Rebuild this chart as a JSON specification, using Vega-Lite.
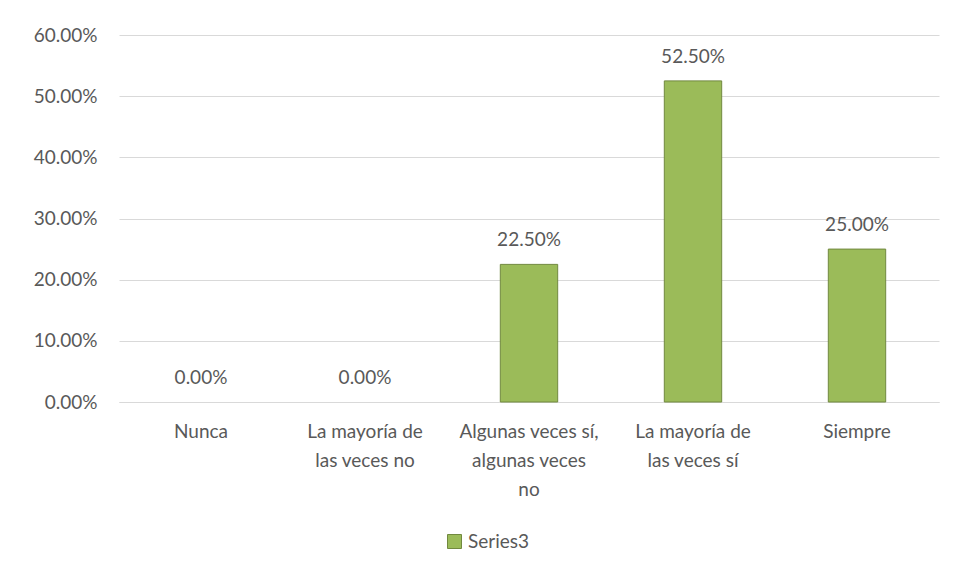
{
  "$schema": "https://vega.github.io/schema/vega-lite/v6.json",
  "width": 820,
  "height": 367,
  "autosize": {"type": "none"},
  "padding": {"left": 119, "top": 35, "right": 17, "bottom": 175},
  "background": "white",
  "config": {
    "font": "Lato",
    "view": {"stroke": null},
    "axis": {"labelColor": "#595959", "labelFontSize": 19, "ticks": false, "title": null, "labelFont": "Lato"},
    "legend": {"labelColor": "#595959", "labelFontSize": 19, "labelFont": "Lato"}
  },
  "data": {
    "values": [
      {"categoria": "Nunca", "valor": 0.0, "serie": "Series3"},
      {"categoria": "La mayoría de las veces no", "valor": 0.0, "serie": "Series3"},
      {"categoria": "Algunas veces sí, algunas veces no", "valor": 0.225, "serie": "Series3"},
      {"categoria": "La mayoría de las veces sí", "valor": 0.525, "serie": "Series3"},
      {"categoria": "Siempre", "valor": 0.25, "serie": "Series3"}
    ]
  },
  "encoding": {
    "x": {
      "field": "categoria",
      "type": "nominal",
      "sort": null,
      "scale": {"paddingInner": 0.65, "paddingOuter": 0.325},
      "axis": {
        "labelAngle": 0,
        "domainColor": "#D9D9D9",
        "labelPadding": 29,
        "labelLineHeight": 29,
        "labelBaseline": "middle",
        "labelLimit": 220,
        "labelOverlap": false,
        "labelExpr": "datum.value == 'La mayoría de las veces no' ? ['La mayoría de', 'las veces no'] : datum.value == 'Algunas veces sí, algunas veces no' ? ['Algunas veces sí,', 'algunas veces', 'no'] : datum.value == 'La mayoría de las veces sí' ? ['La mayoría de', 'las veces sí'] : datum.value"
      }
    },
    "y": {
      "field": "valor",
      "type": "quantitative",
      "scale": {"domain": [0, 0.6]},
      "axis": {
        "format": ".2%",
        "values": [0, 0.1, 0.2, 0.3, 0.4, 0.5, 0.6],
        "labelOverlap": false,
        "domain": false,
        "gridColor": "#D9D9D9",
        "labelPadding": 22
      }
    }
  },
  "layer": [
    {
      "mark": {"type": "bar", "stroke": "#71893F", "strokeWidth": 1},
      "encoding": {
        "strokeOpacity": {"condition": {"test": "datum.valor == 0", "value": 0}, "value": 1},
        "color": {
          "field": "serie",
          "type": "nominal",
          "scale": {"range": ["#9BBB59"]},
          "legend": {"orient": "none", "legendX": 326, "legendY": 497, "title": null, "symbolType": "square", "symbolSize": 196, "symbolStrokeColor": "#71893F", "symbolStrokeWidth": 1, "labelOffset": 4}
        }
      }
    },
    {
      "mark": {"type": "text", "dy": -24, "fontSize": 19, "color": "#595959", "baseline": "middle"},
      "encoding": {
        "text": {"field": "valor", "type": "quantitative", "format": ".2%"}
      }
    }
  ]
}
